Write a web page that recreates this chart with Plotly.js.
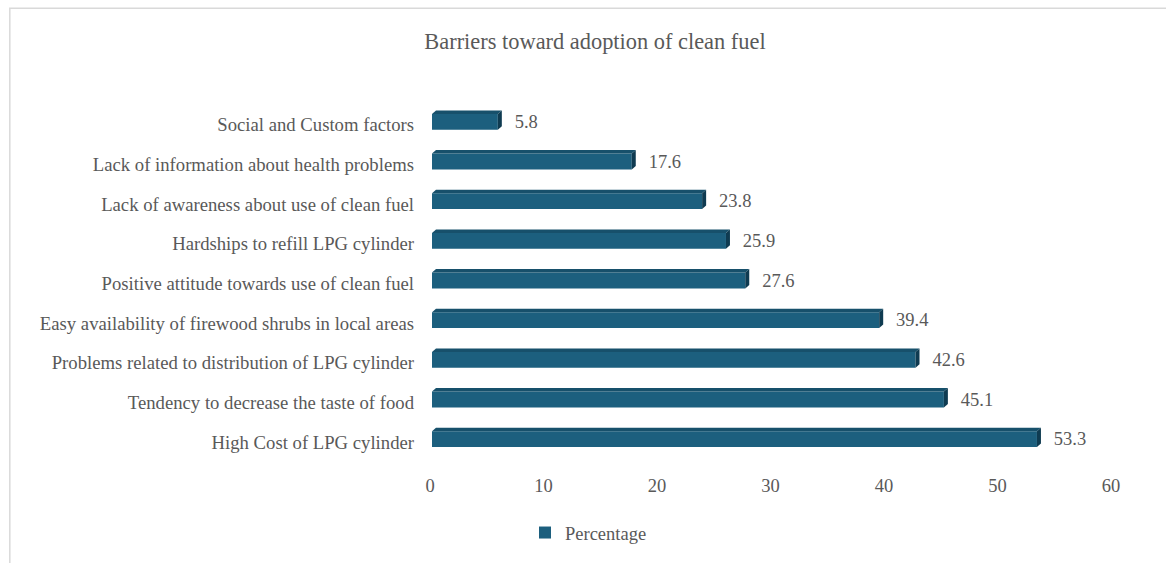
<!DOCTYPE html>
<html>
<head>
<meta charset="utf-8">
<script src="https://cdn.plot.ly/plotly-3.0.1.min.js"></script>
<style>html,body{margin:0;padding:0;background:#fff;}#chart{width:1166px;height:563px;}</style>
</head>
<body>
<div id="chart"></div>
<script>
const categories = [
  "Social and Custom factors",
  "Lack of information about health problems",
  "Lack of awareness about use of clean fuel",
  "Hardships to refill LPG cylinder",
  "Positive attitude towards use of clean fuel",
  "Easy availability of firewood shrubs in local areas",
  "Problems related to distribution of LPG cylinder",
  "Tendency to decrease the taste of food",
  "High Cost of LPG cylinder"
];
const percentage = [5.8, 17.6, 23.8, 25.9, 27.6, 39.4, 42.6, 45.1, 53.3];
const seriesName = "Percentage";
const titleText = "Barriers toward adoption of clean fuel";
const xTicks = [0, 10, 20, 30, 40, 50, 60];

const FONT = "Liberation Serif, Times New Roman, serif";
const TXT = "#595959";
const FRONT = "#1c5f7e";
const TOP = "#17506b";
const SIDE = "#0f3b51";

// plot geometry (pixels)
const L = 432, R = 1113.5, T = 101.5, B = 459;
const pw = R - L, ph = B - T;
const depthX = 4 * 60 / pw;   // depth in data units (~4px)
const depthY = 3.5;           // px
const halfH = 0.4 * ph / categories.length / 2; // half bar height px

const shapes = [];
percentage.forEach((v, i) => {
  shapes.push({
    type: "path", xref: "x", yref: "y", ysizemode: "pixel", yanchor: i,
    path: `M0,${halfH} L${v},${halfH} L${v + depthX},${halfH + depthY} L${depthX},${halfH + depthY} Z`,
    fillcolor: TOP, line: {width: 0}, layer: "above"
  });
  shapes.push({
    type: "path", xref: "x", yref: "y", ysizemode: "pixel", yanchor: i,
    path: `M${v},${halfH} L${v + depthX},${halfH + depthY} L${v + depthX},${-halfH + depthY} L${v},${-halfH} Z`,
    fillcolor: SIDE, line: {width: 0}, layer: "above"
  });
});
const px2x = p => (p - L) / pw;
const py2y = p => (B - p) / ph;
shapes.push({
  type: "rect", xref: "paper", yref: "paper",
  x0: px2x(9.5), x1: px2x(1200), y0: py2y(620), y1: py2y(7.5),
  line: {color: "#d9d9d9", width: 1.5}, fillcolor: "rgba(0,0,0,0)", layer: "below"
});

const trace = {
  type: "bar",
  orientation: "h",
  name: seriesName,
  y: categories,
  x: percentage,
  width: 0.4,
  marker: {color: FRONT, line: {width: 0}},
  text: percentage.map(v => "\u00a0\u00a0\u00a0" + v.toFixed(1)),
  textposition: "outside",
  constraintext: "none",
  cliponaxis: false,
  textfont: {family: FONT, size: 18.5, color: TXT},
  hoverinfo: "x+y"
};

const layout = {
  width: 1166, height: 563,
  margin: {l: L, r: 1166 - R, t: T, b: 563 - B, pad: 0},
  paper_bgcolor: "#fff", plot_bgcolor: "#fff",
  font: {family: FONT, size: 18.5, color: TXT},
  title: {
    text: titleText, font: {family: FONT, size: 22.4, color: TXT},
    xref: "container", x: 595 / 1166, xanchor: "center",
    yref: "container", y: 1 - 41 / 563, yanchor: "middle"
  },
  xaxis: {
    range: [0, 60], tickvals: xTicks, showgrid: false, zeroline: false,
    showline: false, ticks: "", ticklabelstandoff: 13, ticklabelshift: -2,
    tickfont: {family: FONT, size: 18.5, color: TXT}, fixedrange: true
  },
  yaxis: {
    type: "category", autorange: "reversed", showgrid: false, zeroline: false,
    showline: false, ticks: "", ticklabelstandoff: 17, ticklabelshift: -3,
    tickfont: {family: FONT, size: 18.7, color: TXT}, fixedrange: true
  },
  bargap: 0.6,
  showlegend: true,
  legend: {
    orientation: "h", xref: "container", yref: "container",
    x: 525 / 1166, xanchor: "left", y: 1 - 533 / 563, yanchor: "middle",
    font: {family: FONT, size: 18.5, color: TXT}, bgcolor: "rgba(0,0,0,0)"
  },
  shapes: shapes
};

Plotly.newPlot("chart", [trace], layout, {displayModeBar: false, staticPlot: true});
</script>
</body>
</html>
